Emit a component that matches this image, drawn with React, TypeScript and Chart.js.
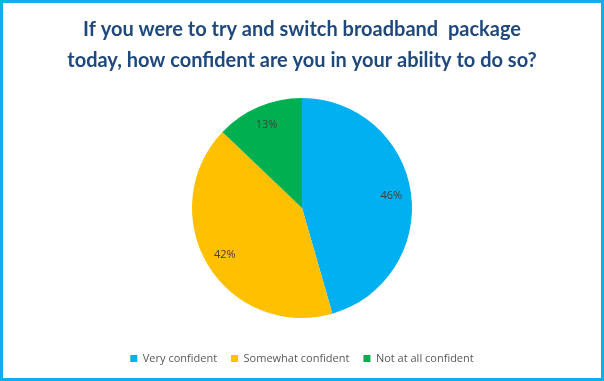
import React, { useEffect, useRef } from "react";
import { Chart, registerables } from "chart.js";

Chart.register(...registerables);

const titleLines = [
  "If you were to try and switch broadband  package",
  "today, how confident are you in your ability to do so?",
];
const categories = ["Very confident", "Somewhat confident", "Not at all confident"];
const values = [46, 42, 13];
const colors = ["#00b0f0", "#ffc000", "#00b050"];

const labelPlugin = {
  id: "sliceLabels",
  afterDatasetsDraw(chart: any) {
    const ctx = chart.ctx;
    const meta = chart.getDatasetMeta(0);
    ctx.save();
    ctx.font = "11px 'Open Sans'";
    ctx.fillStyle = "#404040";
    ctx.textAlign = "center";
    ctx.textBaseline = "middle";
    meta.data.forEach((arc: any, i: number) => {
      const mid = (arc.startAngle + arc.endAngle) / 2;
      const d = arc.outerRadius * 0.82;
      const x = arc.x + Math.cos(mid) * d;
      const y = arc.y + Math.sin(mid) * d;
      ctx.fillText(values[i] + "%", x, y);
    });
    ctx.restore();
  },
};

export default function App() {
  const ref = useRef<HTMLCanvasElement>(null);
  useEffect(() => {
    if (!ref.current) return;
    const chart = new Chart(ref.current, {
      type: "pie",
      data: {
        labels: categories,
        datasets: [
          {
            data: values,
            backgroundColor: colors,
            borderWidth: 0,
            radius: 110,
          },
        ],
      },
      options: {
        animation: false,
        responsive: false,
        maintainAspectRatio: false,
        layout: { padding: { top: 0, bottom: 4, left: 0, right: 0 } },
        plugins: {
          title: {
            display: true,
            text: titleLines,
            color: "#1f497d",
            font: { family: "Lato", size: 20, weight: "bold", lineHeight: "31px" as any },
            padding: { top: 11, bottom: 1 },
          },
          legend: {
            position: "bottom",
            labels: {
              boxWidth: 7,
              boxHeight: 7,
              padding: 14,
              color: "#595959",
              font: { family: "'Open Sans'", size: 11 },
            },
          },
          tooltip: { enabled: false },
        },
      },
      plugins: [labelPlugin],
    });
    return () => chart.destroy();
  }, []);
  return (
    <div
      style={{
        position: "absolute",
        left: 0,
        top: 0,
        width: 604,
        height: 381,
        boxSizing: "border-box",
        border: "3px solid #12aeea",
        background: "#ffffff",
      }}
    >
      <canvas ref={ref} width={598} height={375} style={{ display: "block" }} />
    </div>
  );
}
